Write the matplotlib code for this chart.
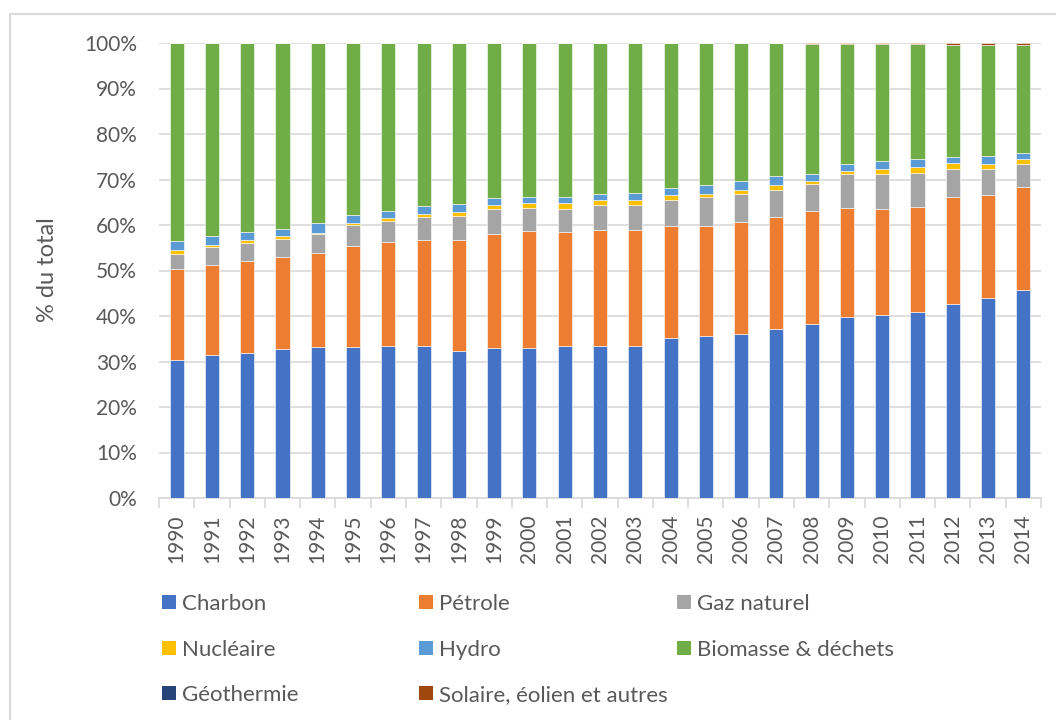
import matplotlib
matplotlib.use("Agg")
import matplotlib.pyplot as plt
import numpy as np
from matplotlib.patches import Rectangle
from matplotlib.ticker import FuncFormatter, MultipleLocator

# Step 1: data (% of total primary energy supply)
years = [str(y) for y in range(1990, 2015)]

charbon = [30.3, 31.4, 31.9, 32.7, 33.2, 33.2, 33.4, 33.5, 32.4, 33.0, 33.0, 33.3, 33.4,
           33.3, 35.2, 35.6, 36.1, 37.1, 38.2, 39.8, 40.2, 40.9, 42.6, 43.9, 45.8]
petrole = [20.0, 19.8, 20.1, 20.2, 20.7, 22.1, 22.8, 23.2, 24.3, 25.1, 25.6, 25.1, 25.4,
           25.7, 24.6, 24.2, 24.5, 24.6, 24.8, 23.9, 23.3, 23.0, 23.5, 22.7, 22.5]
gaz = [3.4, 3.9, 4.0, 4.0, 4.1, 4.6, 4.6, 5.1, 5.2, 5.4, 5.1, 5.2, 5.5,
       5.5, 5.8, 6.3, 6.3, 6.1, 6.0, 7.4, 7.8, 7.6, 6.3, 5.7, 5.2]
nucleaire = [0.7, 0.4, 0.6, 0.6, 0.3, 0.6, 0.7, 0.7, 0.9, 0.8, 1.1, 1.2, 1.2,
             1.0, 0.9, 0.8, 0.9, 0.9, 0.7, 0.8, 1.0, 1.3, 1.2, 1.2, 1.1]
hydro = [2.0, 2.0, 1.9, 1.6, 2.2, 1.7, 1.6, 1.6, 1.8, 1.6, 1.4, 1.4, 1.3,
         1.5, 1.6, 1.9, 1.8, 2.0, 1.6, 1.5, 1.7, 1.7, 1.4, 1.6, 1.3]
biomasse = [43.5, 42.4, 41.4, 40.8, 39.4, 37.7, 36.8, 35.8, 35.3, 34.0, 33.7, 33.7, 33.1,
            32.9, 31.8, 31.1, 30.3, 29.2, 28.5, 26.4, 25.7, 25.2, 24.6, 24.4, 23.6]
geothermie = [0.0] * 25
solaire = [0.1, 0.1, 0.1, 0.1, 0.1, 0.1, 0.1, 0.1, 0.1, 0.1, 0.1, 0.1, 0.1,
           0.1, 0.1, 0.1, 0.1, 0.1, 0.2, 0.2, 0.3, 0.3, 0.4, 0.5, 0.5]

labels = ["Charbon", "Pétrole", "Gaz naturel", "Nucléaire", "Hydro",
          "Biomasse & déchets", "Géothermie", "Solaire, éolien et autres"]
colors = ["#4472C4", "#ED7D31", "#A5A5A5", "#FFC000", "#5B9BD5",
          "#70AD47", "#264478", "#9E480E"]
series = [charbon, petrole, gaz, nucleaire, hydro, biomasse, geothermie, solaire]

plt.rcParams["font.family"] = ["Lato", "DejaVu Sans"]
text_color = "#595959"
grid_color = "#D9D9D9"

W, H = 1056, 720
fig = plt.figure(figsize=(W / 100, H / 100), dpi=100)
ax = fig.add_axes([159 / W, 1 - 498 / H, 882 / W, 455 / H])

# Step 2: stacked bars
x = np.arange(len(years))
bottom = np.zeros(len(years))
for values, label, color in zip(series, labels, colors):
    ax.bar(x, values, width=0.4, bottom=bottom, color=color, label=label,
           edgecolor="white", linewidth=0.4, zorder=3)
    bottom += np.array(values)

ax.set_xlim(-0.5, len(years) - 0.5)
ax.set_ylim(0, 100)
ax.yaxis.set_major_locator(MultipleLocator(10))
ax.yaxis.set_major_formatter(FuncFormatter(lambda v, _: f"{v:.0f}%"))
ax.grid(True, axis="y", color=grid_color, linewidth=1.2, zorder=0)

ax.set_xticks(x)
ax.set_xticklabels(years, rotation=90, va="top", ha="center")
ax.set_xticks(np.arange(-0.5, len(years)), minor=True)
ax.tick_params(axis="x", which="major", length=0, pad=12, labelsize=15,
               labelcolor=text_color)
ax.tick_params(axis="x", which="minor", length=7, width=1.2, color=grid_color)
ax.tick_params(axis="y", length=0, pad=16, labelsize=15, labelcolor=text_color)

for side in ["top", "right", "left"]:
    ax.spines[side].set_visible(False)
ax.spines["bottom"].set_color(grid_color)
ax.spines["bottom"].set_linewidth(1.2)

fig.text(47 / W, 1 - 270 / H, "% du total", rotation=90, ha="center",
         va="center", fontsize=17, color=text_color)

# Step 3: legend, 3 columns in row order
col_x = [162, 419, 677]
row_y = [602, 648, 693]
for i, (label, color) in enumerate(zip(labels, colors)):
    cx = col_x[i % 3]
    cy = row_y[i // 3]
    fig.add_artist(Rectangle((cx / W, 1 - (cy + 7) / H), 14 / W, 14 / H,
                             transform=fig.transFigure, facecolor=color,
                             edgecolor="none"))
    fig.text((cx + 20) / W, 1 - cy / H, label, ha="left", va="center_baseline",
             fontsize=16, color=text_color)

# chart border
fig.add_artist(Rectangle((10 / W, -0.05), 1.2, 1.05 - 14 / H,
                         transform=fig.transFigure, fill=False,
                         edgecolor=grid_color, linewidth=1.5))

plt.savefig("out.png", dpi=100)
plt.close()
